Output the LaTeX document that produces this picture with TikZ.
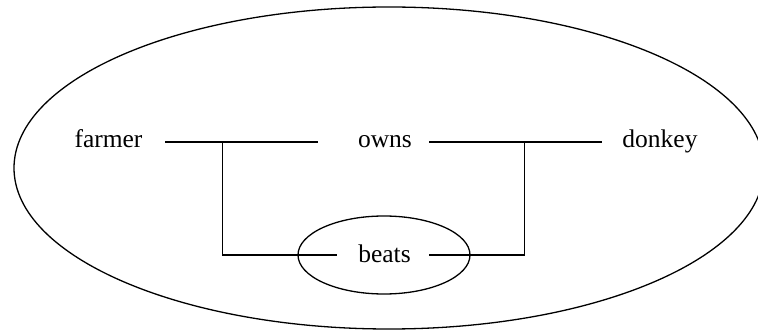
\documentclass[tikz,border=0pt]{standalone}
\usepackage{fontspec}
\setmainfont{Liberation Serif}
\usetikzlibrary{shapes.geometric}
\begin{document}
\begin{tikzpicture}[x=1pt,y=-1pt,
  word/.style={inner sep=0pt,anchor=base,font=\fontsize{25.5}{30}\selectfont},
  link/.style={line width=1.5pt},
  ring/.style={draw,line width=1.3pt}]
\useasboundingbox (0,0) rectangle (758,331);
\clip (0,0) rectangle (758,331);
% outer ellipse
\draw[ring] (389,168) ellipse [x radius=375, y radius=161];
% words
\node[word] (farmer) at (108.5,148) {farmer};
\node[word] (owns) at (385,148) {owns};
\node[word] (donkey) at (660,148) {donkey};
\node[word] (beats) at (384.5,263) {beats};
% inner ellipse
\draw[ring] (384,255) ellipse [x radius=86, y radius=39];
% connector ends
\coordinate (f1) at (165,142);
\coordinate (f2) at (318,142);
\coordinate (j1) at (222.5,142);
\coordinate (b1) at (337,255);
\coordinate (o1) at (429,142);
\coordinate (o2) at (602,142);
\coordinate (j2) at (524.5,142);
\coordinate (b2) at (429,255);
\draw[link] (f1) -- (f2);
\draw[link] (o1) -- (o2);
\draw[link] (j1) |- (b1);
\draw[link] (j2) |- (b2);
\end{tikzpicture}
\end{document}
